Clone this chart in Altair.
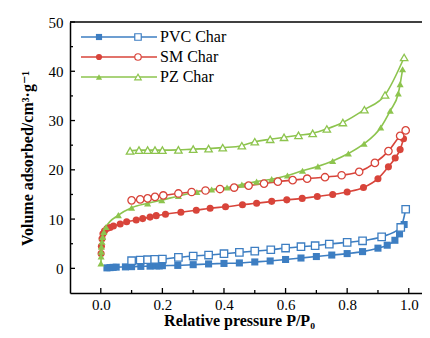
import altair as alt
import pandas as pd

series_names = ["PVC Char", "SM Char", "PZ Char"]
colors = ["#3d7ec2", "#d8443a", "#8dc44e"]
shapes = ["square", "circle", "triangle-up"]

# PVC Char
pvc_ads_x = [0.02, 0.03, 0.04, 0.05, 0.08, 0.10, 0.13, 0.16, 0.18, 0.19, 0.20, 0.25, 0.30, 0.35, 0.40, 0.45, 0.50, 0.55, 0.60, 0.65, 0.70, 0.75, 0.80, 0.85, 0.90, 0.93, 0.955, 0.97, 0.985]
pvc_ads_y = [0.1, 0.15, 0.2, 0.25, 0.3, 0.35, 0.4, 0.45, 0.5, 0.5, 0.55, 0.6, 0.75, 0.9, 1.0, 1.1, 1.3, 1.5, 1.8, 2.1, 2.4, 2.7, 3.0, 3.4, 4.1, 4.7, 5.7, 7.0, 8.9]
pvc_des_x = [0.10, 0.128, 0.152, 0.175, 0.20, 0.252, 0.30, 0.35, 0.40, 0.45, 0.50, 0.552, 0.60, 0.65, 0.696, 0.742, 0.80, 0.85, 0.912, 0.974, 0.99]
pvc_des_y = [1.55, 1.69, 1.76, 1.82, 1.89, 2.23, 2.5, 2.7, 2.97, 3.24, 3.5, 3.78, 4.12, 4.4, 4.6, 4.93, 5.27, 5.6, 6.4, 8.3, 12.0]

# SM Char
sm_ads_x = [0.001, 0.002, 0.004, 0.007, 0.012, 0.02, 0.03, 0.041, 0.063, 0.084, 0.115, 0.136, 0.16, 0.18, 0.21, 0.26, 0.31, 0.355, 0.405, 0.46, 0.506, 0.555, 0.604, 0.654, 0.703, 0.753, 0.80, 0.853, 0.90, 0.934, 0.956, 0.972, 0.983]
sm_ads_y = [3.0, 4.5, 6.0, 7.0, 7.6, 8.1, 8.3, 8.6, 9.0, 9.46, 9.8, 10.1, 10.4, 10.7, 11.0, 11.4, 11.8, 12.2, 12.5, 12.9, 13.2, 13.6, 13.9, 14.2, 14.6, 15.0, 15.5, 16.4, 18.2, 20.6, 22.4, 24.1, 26.3]
sm_des_x = [0.10, 0.128, 0.152, 0.176, 0.203, 0.252, 0.295, 0.34, 0.387, 0.433, 0.48, 0.53, 0.575, 0.623, 0.67, 0.728, 0.782, 0.839, 0.89, 0.934, 0.972, 0.99]
sm_des_y = [13.8, 14.0, 14.2, 14.5, 14.8, 15.2, 15.5, 15.8, 16.1, 16.4, 16.8, 17.2, 17.6, 17.9, 18.2, 18.5, 18.9, 19.6, 21.4, 23.8, 26.9, 28.0]

# PZ Char
pz_ads_x = [0.0005, 0.001, 0.0015, 0.002, 0.004, 0.006, 0.01, 0.017, 0.057, 0.10, 0.152, 0.198, 0.252, 0.312, 0.36, 0.41, 0.458, 0.506, 0.555, 0.606, 0.655, 0.705, 0.753, 0.804, 0.855, 0.909, 0.94, 0.966, 0.972, 0.98]
pz_ads_y = [1.0, 2.4, 3.4, 4.4, 5.4, 6.4, 7.4, 8.4, 10.8, 12.3, 13.2, 13.85, 14.7, 15.5, 16.0, 16.4, 17.0, 17.6, 18.1, 18.85, 19.8, 20.7, 21.8, 23.3, 25.3, 28.6, 32.0, 35.5, 37.4, 40.4]
pz_des_x = [0.095, 0.124, 0.152, 0.176, 0.20, 0.252, 0.30, 0.35, 0.396, 0.458, 0.50, 0.55, 0.595, 0.642, 0.688, 0.734, 0.786, 0.856, 0.923, 0.985]
pz_des_y = [23.85, 24.0, 24.0, 24.0, 24.0, 24.05, 24.2, 24.3, 24.5, 24.9, 25.7, 26.2, 26.6, 27.0, 27.4, 28.3, 29.6, 32.2, 35.2, 42.8]

x_major = [0.0, 0.2, 0.4, 0.6, 0.8, 1.0]
x_minor = [0.1, 0.3, 0.5, 0.7, 0.9]
y_major = [0, 10, 20, 30, 40, 50]
y_minor = [5, 15, 25, 35, 45]

rows = []
for name, ax, ay, dx, dy in [
    ("PVC Char", pvc_ads_x, pvc_ads_y, pvc_des_x, pvc_des_y),
    ("SM Char", sm_ads_x, sm_ads_y, sm_des_x, sm_des_y),
    ("PZ Char", pz_ads_x, pz_ads_y, pz_des_x, pz_des_y),
]:
    for xv, yv in zip(ax, ay):
        rows.append({"x": xv, "y": yv, "series": name, "branch": "ads"})
    for xv, yv in zip(dx, dy):
        rows.append({"x": xv, "y": yv, "series": name, "branch": "des"})
df = pd.DataFrame(rows)
df["key"] = df["series"] + "-" + df["branch"]

W, H = 352, 271
FONT = "Liberation Serif, Times New Roman, DejaVu Serif, serif"

xs = alt.Scale(domain=[-0.1, 1.043], nice=False, zero=False)
ys = alt.Scale(domain=[-5, 50], nice=False, zero=False)
xaxis = alt.Axis(values=x_major, format=".1f", ticks=False, grid=False, labelPadding=4,
                 title="Relative pressure P/P₀", titleX=169, titleY=27, titleBaseline="middle",
                 domainColor="black", domainWidth=1.5)
yaxis = alt.Axis(values=y_major, ticks=False, grid=False, labelPadding=7,
                 title="Volume adsorbed/cm³·g⁻¹", titleX=-43, titleY=136, titleAngle=270,
                 titleBaseline="middle", titleAlign="center",
                 domainColor="black", domainWidth=1.5)

X = alt.X("x:Q", scale=xs, axis=xaxis)
Y = alt.Y("y:Q", scale=ys, axis=yaxis)
color = alt.Color("series:N", scale=alt.Scale(domain=series_names, range=colors), legend=None)
shape = alt.Shape("series:N", scale=alt.Scale(domain=series_names, range=shapes), legend=None)

base = alt.Chart(df)
lines = base.mark_line(interpolate="monotone", strokeWidth=1.6).encode(
    x=X, y=Y, color=color, detail="key:N", order="x:Q")
pts_ads = base.transform_filter(alt.datum.branch == "ads").mark_point(
    filled=True, size=50, opacity=1).encode(x=X, y=Y, color=color, shape=shape)
pts_des = base.transform_filter(alt.datum.branch == "des").mark_point(
    filled=False, fill="white", size=55, strokeWidth=1.3, opacity=1).encode(
    x=X, y=Y, color=color, shape=shape)

xt_major = alt.Chart(pd.DataFrame({"x": x_major})).mark_rule(color="black", strokeWidth=1.3).encode(
    x=X, y=alt.value(H), y2=alt.value(H - 5))
xt_minor = alt.Chart(pd.DataFrame({"x": x_minor})).mark_rule(color="black", strokeWidth=1.3).encode(
    x=X, y=alt.value(H), y2=alt.value(H - 3))
yt_major = alt.Chart(pd.DataFrame({"y": y_major})).mark_rule(color="black", strokeWidth=1.3).encode(
    y=Y, x=alt.value(0), x2=alt.value(5))
yt_minor = alt.Chart(pd.DataFrame({"y": y_minor})).mark_rule(color="black", strokeWidth=1.3).encode(
    y=Y, x=alt.value(0), x2=alt.value(3))
top_line = alt.Chart(pd.DataFrame({"y": [50]})).mark_rule(color="black", strokeWidth=1.5).encode(
    y=alt.value(0), x=alt.value(0), x2=alt.value(W))

legend_layers = []
row_y = [15, 35, 55]
for name, c, s, ry in zip(series_names, colors, shapes, row_y):
    one = alt.Chart(pd.DataFrame({"label": [name]}))
    legend_layers.append(one.mark_rule(color=c, strokeWidth=1.6).encode(
        x=alt.value(11), x2=alt.value(87), y=alt.value(ry)))
    legend_layers.append(one.mark_point(shape=s, filled=True, color=c, size=38, opacity=1).encode(
        x=alt.value(29), y=alt.value(ry)))
    legend_layers.append(one.mark_point(shape=s, filled=False, fill="white", color=c, size=42,
                                        strokeWidth=1.2, opacity=1).encode(
        x=alt.value(68), y=alt.value(ry)))
    legend_layers.append(one.mark_text(align="left", baseline="middle", font=FONT, fontSize=16,
                                       color="black").encode(
        x=alt.value(90), y=alt.value(ry), text="label:N"))

chart = alt.layer(
    lines, pts_ads, pts_des, xt_major, xt_minor, yt_major, yt_minor, top_line, *legend_layers
).properties(
    width=W, height=H,
    autosize=alt.AutoSizeParams(type="none"),
    padding={"left": 62, "top": 14, "right": 0, "bottom": 40},
).configure_view(stroke=None).configure_axis(
    labelFont=FONT, labelFontSize=15, labelColor="black",
    titleFont=FONT, titleFontSize=16, titleFontWeight="bold", titleColor="black",
)

chart.save("out.html", embed_options={"renderer": "svg", "actions": False})
